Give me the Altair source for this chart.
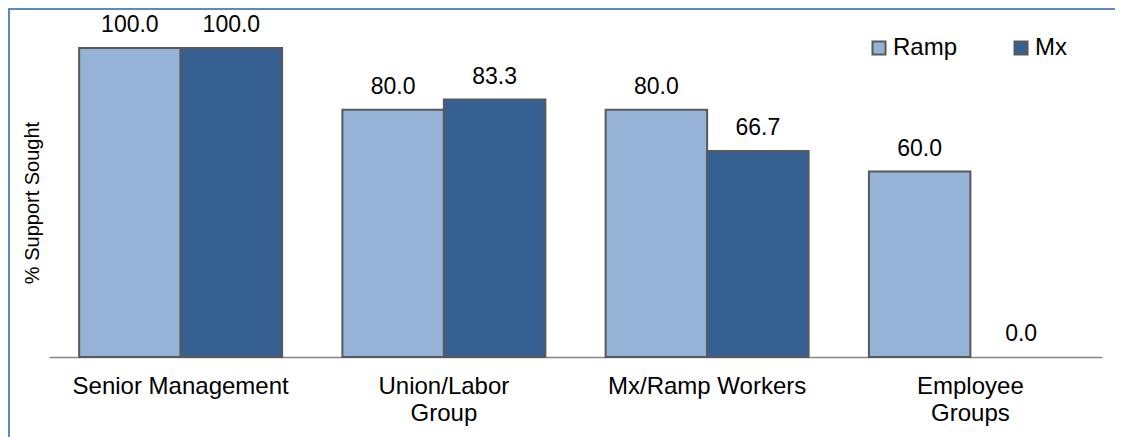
import altair as alt
import pandas as pd

categories = ["Senior Management", "Union/Labor Group", "Mx/Ramp Workers", "Employee Groups"]
series = ["Ramp", "Mx"]
ramp_values = [100.0, 80.0, 80.0, 60.0]
mx_values = [100.0, 83.3, 66.7, 0.0]
colors = ["#95B3D7", "#366092"]

rows = []
for i, c in enumerate(categories):
    rows.append({"category": c, "series": "Ramp", "value": ramp_values[i]})
    rows.append({"category": c, "series": "Mx", "value": mx_values[i]})
df = pd.DataFrame(rows)

FONT = "Liberation Sans"
W, H = 1053, 309

label_expr = ("datum.label == 'Union/Labor Group' ? ['Union/Labor', 'Group'] : "
              "datum.label == 'Employee Groups' ? ['Employee', 'Groups'] : datum.label")

x_enc = alt.X("category:N", sort=categories, title=None,
              scale=alt.Scale(paddingInner=0.229, paddingOuter=0.1145),
              axis=alt.Axis(labelAngle=0, ticks=False, domainColor="#868686", domainWidth=1.5,
                            labelFontSize=24, labelColor="black", labelFont=FONT,
                            labelPadding=17, labelLimit=0, labelLineHeight=27,
                            labelExpr=label_expr))
xo_enc = alt.XOffset("series:N", sort=series, scale=alt.Scale(paddingInner=0, paddingOuter=0))
y_enc = alt.Y("value:Q", scale=alt.Scale(domain=[0, 100], nice=False),
              title="%  Support Sought",
              axis=alt.Axis(labels=False, ticks=False, domain=False, grid=False,
                            titleFontSize=20, titleFontWeight="normal", titleColor="black",
                            titleFont=FONT, titlePadding=7))

base = alt.Chart(df)

bars = base.mark_bar(stroke="#595959", strokeWidth=2).encode(
    x=x_enc, xOffset=xo_enc, y=y_enc,
    color=alt.Color("series:N", sort=series,
                    scale=alt.Scale(domain=series, range=colors),
                    legend=alt.Legend(title=None, orient="none", legendX=818, legendY=-12,
                                      direction="horizontal", symbolType="square",
                                      symbolSize=169, symbolStrokeColor="#595959",
                                      symbolStrokeWidth=2, labelFontSize=24,
                                      labelFont=FONT, labelColor="black",
                                      columnPadding=51, labelOffset=2, padding=0)),
    strokeOpacity=alt.condition("datum.value > 0", alt.value(1), alt.value(0)),
)

labels = base.mark_text(dy=-16, baseline="alphabetic", fontSize=23, font=FONT, color="black").encode(
    x=alt.X("category:N", sort=categories), xOffset=alt.XOffset("series:N", sort=series),
    y="value:Q", text=alt.Text("value:Q", format=".1f"),
)

frame_df = pd.DataFrame({"a": [0]})
top_border = alt.Chart(frame_df).mark_rule(color="#5A8AC6", strokeWidth=2).encode(
    x=alt.value(-41), x2=alt.value(W + 20), y=alt.value(-39))
left_border = alt.Chart(frame_df).mark_rule(color="#5A8AC6", strokeWidth=2).encode(
    x=alt.value(-40), y=alt.value(-40), y2=alt.value(H + 85))

chart = alt.layer(bars, labels, top_border, left_border).properties(
    width=W, height=H,
    autosize=alt.AutoSizeParams(type="none"),
    padding={"left": 41, "top": 40, "right": 13, "bottom": 80},
).configure(font=FONT).configure_view(stroke=None)

chart.save("out.html", embed_options={"renderer": "svg", "actions": False})
